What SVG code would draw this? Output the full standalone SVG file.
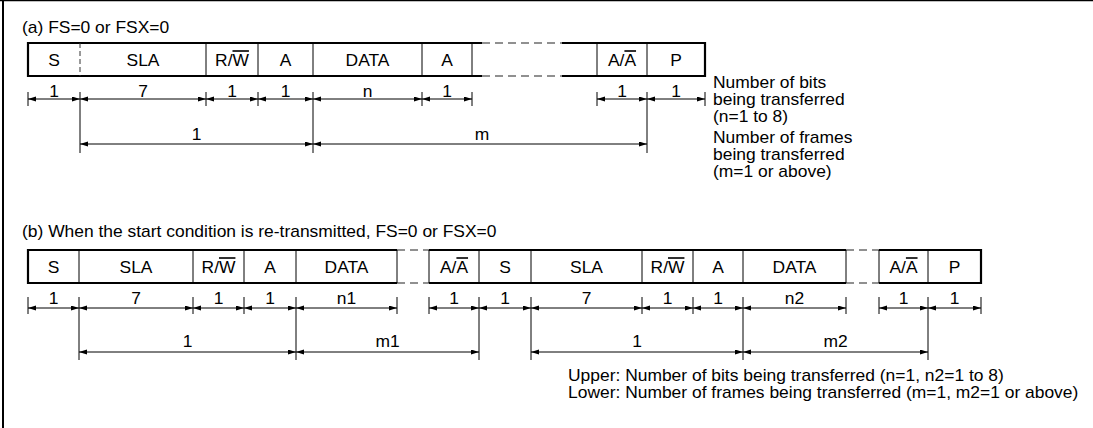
<svg xmlns="http://www.w3.org/2000/svg" width="1093" height="428" viewBox="0 0 1093 428">
<style>
.t{font-family:"Liberation Sans",Arial,Helvetica,sans-serif;font-size:16px;fill:#000}
.m{text-anchor:middle}
.thick{stroke:#000;stroke-width:2.2;fill:none}
.thin{stroke:#000;stroke-width:1;fill:none}
.dash{stroke:#222;stroke-width:1.2;stroke-dasharray:8 5;fill:none}
.dashv{stroke:#333;stroke-width:1;stroke-dasharray:5 3;fill:none}
.tick{stroke:#000;stroke-width:1;fill:none}
.dim{stroke:#000;stroke-width:1;fill:none;marker-start:url(#ah);marker-end:url(#ah)}
.ol{text-decoration:overline}
</style>
<defs>
<marker id="ah" markerUnits="userSpaceOnUse" markerWidth="9" markerHeight="6" refX="8" refY="2.5" orient="auto-start-reverse">
<path d="M0,0 L8,2.5 L0,5 z" fill="#000"/>
</marker>
</defs>
<rect width="1093" height="428" fill="#fff"/>
<g id="border">
<line x1="0" y1="0.5" x2="1093" y2="0.5" stroke="#000" stroke-width="1.5"/>
<line x1="3" y1="0" x2="3" y2="428" stroke="#000" stroke-width="2"/>
</g>

<!-- (a) -->
<g id="titleA"><text class="t" transform="translate(22 32.5) scale(1.09 1)">(a) FS=0 or FSX=0</text></g>
<g id="frameA">
<path class="thick" d="M482,43 H28 V76 H482"/>
<path class="thick" d="M562,43 H705 V76 H562"/>
<path class="dash" d="M482,43 H562 M482,76 H562"/>
</g>
<g id="a_S"><text class="t m" transform="translate(54 65.5) scale(1.09 1)">S</text></g>
<g id="a_SLA"><line class="dashv" x1="80" y1="43" x2="80" y2="76"/><text class="t m" transform="translate(143 65.5) scale(1.09 1)">SLA</text></g>
<g id="a_RW"><line class="thin" x1="206" y1="43" x2="206" y2="76"/><text class="t m" transform="translate(232 65.5) scale(1.09 1)">R/<tspan class="ol">W</tspan></text></g>
<g id="a_A1"><line class="thin" x1="258" y1="43" x2="258" y2="76"/><text class="t m" transform="translate(285.5 65.5) scale(1.09 1)">A</text></g>
<g id="a_DATA"><line class="thin" x1="313" y1="43" x2="313" y2="76"/><text class="t m" transform="translate(367.5 65.5) scale(1.09 1)">DATA</text></g>
<g id="a_A2"><line class="thin" x1="422" y1="43" x2="422" y2="76"/><line class="thin" x1="472" y1="43" x2="472" y2="76"/><text class="t m" transform="translate(447 65.5) scale(1.09 1)">A</text></g>
<g id="a_AA"><line class="thin" x1="597" y1="43" x2="597" y2="76"/><text class="t m" transform="translate(622 65.5) scale(1.09 1)">A/<tspan class="ol">A</tspan></text></g>
<g id="a_P"><line class="thin" x1="647" y1="43" x2="647" y2="76"/><text class="t m" transform="translate(676 65.5) scale(1.09 1)">P</text></g>
<g id="a_note">
<text class="t" transform="translate(713 88) scale(1.09 1)">Number of bits</text>
<text class="t" transform="translate(713 105) scale(1.09 1)">being transferred</text>
<text class="t" transform="translate(713 122) scale(1.09 1)">(n=1 to 8)</text>
<text class="t" transform="translate(713 143) scale(1.09 1)">Number of frames</text>
<text class="t" transform="translate(713 160) scale(1.09 1)">being transferred</text>
<text class="t" transform="translate(713 177) scale(1.09 1)">(m=1 or above)</text>
</g>

<!-- (b) -->
<g id="titleB"><text class="t" transform="translate(22 237) scale(1.09 1)">(b) When the start condition is re-transmitted, FS=0 or FSX=0</text></g>
<g id="frameB">
<path class="thick" d="M397,250 H28 V283 H397"/>
<path class="thick" d="M429,250 H846 M429,283 H846"/>
<path class="thick" d="M879,250 H981 V283 H879"/>
<path class="dash" d="M397,250 H429 M397,283 H429 M846,250 H879 M846,283 H879"/>
</g>
<g id="b_S1"><text class="t m" transform="translate(53.5 272.5) scale(1.09 1)">S</text></g>
<g id="b_SLA1"><line class="thin" x1="79" y1="250" x2="79" y2="283"/><text class="t m" transform="translate(136 272.5) scale(1.09 1)">SLA</text></g>
<g id="b_RW1"><line class="thin" x1="193" y1="250" x2="193" y2="283"/><text class="t m" transform="translate(218.5 272.5) scale(1.09 1)">R/<tspan class="ol">W</tspan></text></g>
<g id="b_A1"><line class="thin" x1="244" y1="250" x2="244" y2="283"/><text class="t m" transform="translate(270 272.5) scale(1.09 1)">A</text></g>
<g id="b_DATA1"><line class="thin" x1="296" y1="250" x2="296" y2="283"/><line class="thin" x1="397" y1="250" x2="397" y2="283"/><text class="t m" transform="translate(346.5 272.5) scale(1.09 1)">DATA</text></g>
<g id="b_AA1"><line class="thin" x1="429" y1="250" x2="429" y2="283"/><text class="t m" transform="translate(454 272.5) scale(1.09 1)">A/<tspan class="ol">A</tspan></text></g>
<g id="b_S2"><line class="thin" x1="479" y1="250" x2="479" y2="283"/><text class="t m" transform="translate(505 272.5) scale(1.09 1)">S</text></g>
<g id="b_SLA2"><line class="thin" x1="531" y1="250" x2="531" y2="283"/><text class="t m" transform="translate(586.5 272.5) scale(1.09 1)">SLA</text></g>
<g id="b_RW2"><line class="thin" x1="642" y1="250" x2="642" y2="283"/><text class="t m" transform="translate(667.5 272.5) scale(1.09 1)">R/<tspan class="ol">W</tspan></text></g>
<g id="b_A2"><line class="thin" x1="693" y1="250" x2="693" y2="283"/><text class="t m" transform="translate(718 272.5) scale(1.09 1)">A</text></g>
<g id="b_DATA2"><line class="thin" x1="743" y1="250" x2="743" y2="283"/><line class="thin" x1="846" y1="250" x2="846" y2="283"/><text class="t m" transform="translate(794.5 272.5) scale(1.09 1)">DATA</text></g>
<g id="b_AA2"><line class="thin" x1="879" y1="250" x2="879" y2="283"/><text class="t m" transform="translate(903.5 272.5) scale(1.09 1)">A/<tspan class="ol">A</tspan></text></g>
<g id="b_P"><line class="thin" x1="928" y1="250" x2="928" y2="283"/><text class="t m" transform="translate(954.5 272.5) scale(1.09 1)">P</text></g>
<g id="b_note">
<text class="t" transform="translate(568 380.5) scale(1.09 1)">Upper: Number of bits being transferred (n=1, n2=1 to 8)</text>
<text class="t" transform="translate(568 397.5) scale(1.09 1)">Lower: Number of frames being transferred (m=1, m2=1 or above)</text>
</g>

<!-- connectors: dimension lines -->
<g id="connectors">
<path class="tick" d="M28,92 V106 M206,92 V106 M258,92 V106 M422,92 V106 M472,92 V106 M597,92 V106 M705,92 V106 M80,92 V153 M313,92 V153 M647,92 V153"/>
<line class="dim" x1="28" y1="99" x2="80" y2="99"/>
<line class="dim" x1="80" y1="99" x2="206" y2="99"/>
<line class="dim" x1="206" y1="99" x2="258" y2="99"/>
<line class="dim" x1="258" y1="99" x2="313" y2="99"/>
<line class="dim" x1="313" y1="99" x2="422" y2="99"/>
<line class="dim" x1="422" y1="99" x2="472" y2="99"/>
<line class="dim" x1="597" y1="99" x2="647" y2="99"/>
<line class="dim" x1="647" y1="99" x2="705" y2="99"/>
<line class="dim" x1="80" y1="144" x2="313" y2="144"/>
<line class="dim" x1="313" y1="144" x2="647" y2="144"/>
<path class="tick" d="M28,297 V314 M193,297 V314 M244,297 V314 M397,297 V314 M429,297 V314 M642,297 V314 M693,297 V314 M846,297 V314 M879,297 V314 M981,297 V314 M79,297 V360 M296,297 V360 M479,297 V360 M531,297 V360 M743,297 V360 M928,297 V360"/>
<line class="dim" x1="28" y1="308" x2="79" y2="308"/>
<line class="dim" x1="79" y1="308" x2="193" y2="308"/>
<line class="dim" x1="193" y1="308" x2="244" y2="308"/>
<line class="dim" x1="244" y1="308" x2="296" y2="308"/>
<line class="dim" x1="296" y1="308" x2="397" y2="308"/>
<line class="dim" x1="429" y1="308" x2="479" y2="308"/>
<line class="dim" x1="479" y1="308" x2="531" y2="308"/>
<line class="dim" x1="531" y1="308" x2="642" y2="308"/>
<line class="dim" x1="642" y1="308" x2="693" y2="308"/>
<line class="dim" x1="693" y1="308" x2="743" y2="308"/>
<line class="dim" x1="743" y1="308" x2="846" y2="308"/>
<line class="dim" x1="879" y1="308" x2="928" y2="308"/>
<line class="dim" x1="928" y1="308" x2="981" y2="308"/>
<line class="dim" x1="79" y1="352" x2="296" y2="352"/>
<line class="dim" x1="296" y1="352" x2="479" y2="352"/>
<line class="dim" x1="531" y1="352" x2="743" y2="352"/>
<line class="dim" x1="743" y1="352" x2="928" y2="352"/>
</g>

<g id="dimLabels">
<text class="t m" transform="translate(54 96.5) scale(1.09 1)">1</text>
<text class="t m" transform="translate(143 96.5) scale(1.09 1)">7</text>
<text class="t m" transform="translate(232 96.5) scale(1.09 1)">1</text>
<text class="t m" transform="translate(285.5 96.5) scale(1.09 1)">1</text>
<text class="t m" transform="translate(367.5 96.5) scale(1.09 1)">n</text>
<text class="t m" transform="translate(447 96.5) scale(1.09 1)">1</text>
<text class="t m" transform="translate(622 96.5) scale(1.09 1)">1</text>
<text class="t m" transform="translate(676 96.5) scale(1.09 1)">1</text>
<text class="t m" transform="translate(196.5 139.5) scale(1.09 1)">1</text>
<text class="t m" transform="translate(482 139.5) scale(1.09 1)">m</text>

<text class="t m" transform="translate(53.5 303.5) scale(1.09 1)">1</text>
<text class="t m" transform="translate(136 303.5) scale(1.09 1)">7</text>
<text class="t m" transform="translate(218.5 303.5) scale(1.09 1)">1</text>
<text class="t m" transform="translate(270 303.5) scale(1.09 1)">1</text>
<text class="t m" transform="translate(346.5 303.5) scale(1.09 1)">n1</text>
<text class="t m" transform="translate(454 303.5) scale(1.09 1)">1</text>
<text class="t m" transform="translate(505 303.5) scale(1.09 1)">1</text>
<text class="t m" transform="translate(586.5 303.5) scale(1.09 1)">7</text>
<text class="t m" transform="translate(667.5 303.5) scale(1.09 1)">1</text>
<text class="t m" transform="translate(718 303.5) scale(1.09 1)">1</text>
<text class="t m" transform="translate(794.5 303.5) scale(1.09 1)">n2</text>
<text class="t m" transform="translate(903.5 303.5) scale(1.09 1)">1</text>
<text class="t m" transform="translate(954.5 303.5) scale(1.09 1)">1</text>
<text class="t m" transform="translate(187.5 346.5) scale(1.09 1)">1</text>
<text class="t m" transform="translate(387.5 346.5) scale(1.09 1)">m1</text>
<text class="t m" transform="translate(637 346.5) scale(1.09 1)">1</text>
<text class="t m" transform="translate(835.5 346.5) scale(1.09 1)">m2</text>
</g>
</svg>
